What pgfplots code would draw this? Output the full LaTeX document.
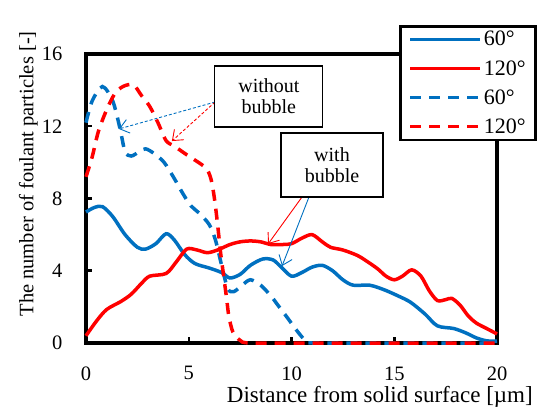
\documentclass[border=0pt]{standalone}
\usepackage{fontspec}
\setmainfont{Liberation Serif}
\usepackage{pgfplots}
\pgfplotsset{compat=1.18}
\usetikzlibrary{arrows.meta}

\definecolor{exblue}{RGB}{0,112,192}
\definecolor{exred}{RGB}{255,0,0}

\begin{document}
\begin{tikzpicture}
\begin{axis}[
    scale only axis,
    width=411pt, height=289pt,
    xmin=0, xmax=20, ymin=0, ymax=16,
    xtick={0,5,10,15,20}, ytick={0,4,8,12,16},
    tick pos=left, tick align=inside,
    major tick length=6pt,
    tick style={line width=2.5pt, black},
    axis line style={line width=3.5pt},
    clip=false,
    tick label style={font=\rmfamily\fontsize{20.5}{22}\selectfont},
    /pgf/number format/assume math mode=true,
    yticklabel style={xshift=-20pt},
    xticklabel style={yshift=-20pt},
    xlabel={Distance from solid surface [\textmu m]},
    xlabel style={font=\fontsize{23}{25}\selectfont, at={(axis description cs:0.715,0)}, anchor=north, yshift=-40pt},
    ylabel={The number of foulant particles [-]},
    ylabel style={font=\fontsize{20.5}{22}\selectfont, at={(axis description cs:-0.14,0.585)}, anchor=center},
    legend style={at={(axis description cs:0.7616,1.1003)}, anchor=north west,
        draw=black, line width=2.5pt, fill=white,
        font=\rmfamily\fontsize{22}{23}\selectfont, inner xsep=8pt, inner ysep=3pt,
        row sep=9pt},
    legend cell align=left,
    legend image code/.code={\draw[#1] (0pt,0pt) -- (70pt,0pt);},
]
% 60 deg, with bubble
\addplot[exblue, line width=3.5pt, smooth] coordinates {
(0,7.25) (0.4,7.5) (0.8,7.55) (1.3,7.0) (1.9,6.0) (2.5,5.3) (2.9,5.2) (3.4,5.5)
(3.9,6.05) (4.3,5.7) (4.8,4.9) (5.3,4.4) (6.0,4.15) (6.6,3.9) (7.0,3.6) (7.5,3.8)
(8.0,4.3) (8.6,4.65) (9.1,4.6) (9.5,4.2) (10.0,3.7) (10.5,3.9) (11.0,4.2) (11.5,4.3)
(12.0,4.0) (12.5,3.5) (13.0,3.2) (13.8,3.2) (14.5,2.95) (15.2,2.6) (15.8,2.25)
(16.5,1.6) (17.1,0.95) (17.9,0.8) (18.5,0.55) (19.0,0.28) (19.5,0.12) (20,0.1)};
\addlegendentry{60°}
% 120 deg, with bubble
\addplot[exred, line width=3.5pt, smooth] coordinates {
(0,0.4) (0.5,1.2) (1.0,1.85) (1.7,2.3) (2.2,2.7) (2.7,3.3) (3.1,3.7) (3.9,3.85)
(4.4,4.5) (4.9,5.2) (5.4,5.15) (5.9,5.0) (6.4,5.15) (7.0,5.45) (7.5,5.6) (8.0,5.65)
(8.5,5.6) (9.0,5.45) (9.5,5.45) (10.0,5.5) (10.5,5.8) (11.0,6.0) (11.5,5.6) (11.9,5.3)
(12.5,5.15) (13.2,4.85) (13.7,4.5) (14.2,4.1) (14.6,3.7) (15.0,3.5) (15.4,3.7)
(15.85,4.05) (16.3,3.7) (16.7,2.9) (17.1,2.35) (17.5,2.4) (17.8,2.47) (18.2,2.1)
(18.6,1.5) (19.0,1.1) (19.5,0.8) (20,0.5)};
\addlegendentry{120°}
% 60 deg, without bubble
\addplot[exblue, line width=3.5pt, smooth, dash pattern=on 11pt off 8pt] coordinates {
(0,12.2) (0.3,13.4) (0.8,14.2) (1.3,13.4) (1.65,11.9) (1.9,10.6) (2.2,10.35)
(2.6,10.6) (2.9,10.75) (3.3,10.5) (3.8,10.0) (4.3,9.1) (4.7,8.3) (5.1,7.6) (5.5,7.2)
(6.0,6.55) (6.3,5.7) (6.6,4.3) (6.9,3.0) (7.2,2.85) (7.6,3.2) (8.0,3.5) (8.5,3.2)
(9.0,2.6) (9.4,2.0) (9.8,1.4) (10.25,0.7) (10.7,0.1) (11,0) (14,0) (17,0) (20,0)};
\addlegendentry{60°}
% 120 deg, without bubble
\addplot[exred, line width=3.5pt, smooth, dash pattern=on 11pt off 8pt] coordinates {
(0,9.2) (0.3,10.3) (0.6,11.7) (1.0,12.9) (1.4,13.8) (1.8,14.2) (2.3,14.3) (2.7,13.7)
(3.1,13.1) (3.5,12.2) (3.9,11.2) (4.3,10.9) (4.8,10.5) (5.2,10.2) (5.6,9.9) (5.9,9.6)
(6.1,9.0) (6.25,8.0) (6.4,6.6) (6.55,5.0) (6.7,3.7) (6.85,2.4) (6.95,1.5) (7.15,0.6)
(7.5,0.15) (8.0,0) (11,0) (14,0) (17,0) (20,0)};
\addlegendentry{120°}

% annotations
\draw[exblue, line width=0.9pt, dash pattern=on 3pt off 2pt, -{Straight Barb[length=9pt,width=14pt]}]
    (axis cs:6.28,13.34) -- (axis cs:1.6,11.85);
\draw[exred, line width=0.9pt, dash pattern=on 3pt off 2pt, -{Straight Barb[length=9pt,width=14pt]}]
    (axis cs:6.28,13.34) -- (axis cs:4.18,11.18);
\node[draw=black, line width=1.2pt, fill=white, minimum width=108pt, minimum height=61pt,
    align=center, font=\fontsize{20}{21}\selectfont, inner sep=0pt]
    at (axis cs:8.9,13.65) {without\\bubble};
\draw[exred, line width=0.9pt, -{Straight Barb[length=9pt,width=14pt]}]
    (axis cs:10.51,8.08) -- (axis cs:8.86,5.48);
\draw[exblue, line width=0.9pt, -{Straight Barb[length=9pt,width=14pt]}]
    (axis cs:10.85,8.08) -- (axis cs:9.54,4.26);
\node[draw=black, line width=1.2pt, fill=white, minimum width=102pt, minimum height=64pt,
    align=center, font=\fontsize{20}{21}\selectfont, inner sep=0pt]
    at (axis cs:11.97,9.86) {with\\bubble};
\end{axis}
\path (current axis.south west) ++(-86pt,-65pt) rectangle ++(546pt,408pt);
\end{tikzpicture}
\end{document}
